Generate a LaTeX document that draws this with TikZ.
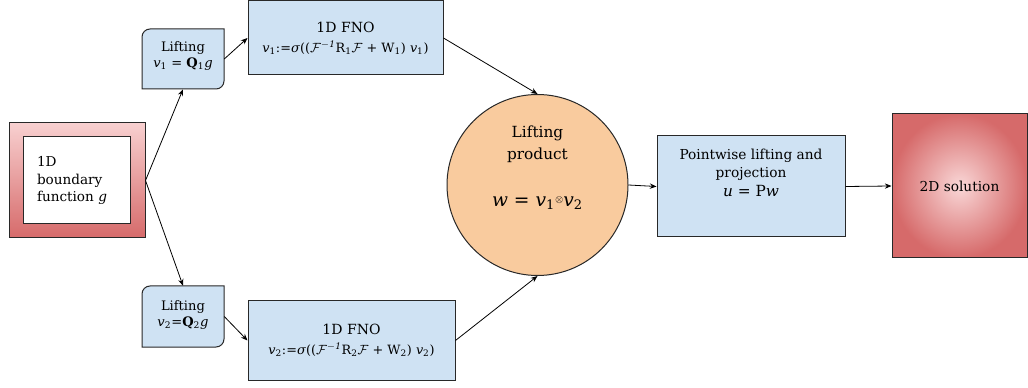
\documentclass[tikz,border=0pt]{standalone}
\usepackage{fontspec}
\setmainfont{DejaVu Serif}
\usetikzlibrary{arrows.meta,shapes.geometric}
\definecolor{bluefill}{RGB}{207,226,243}
\definecolor{orangefill}{RGB}{249,203,158}
\definecolor{pinklight}{RGB}{248,208,208}
\definecolor{reddark}{RGB}{214,106,106}
\definecolor{edge}{RGB}{40,40,40}
\tikzset{
  blubox/.style={draw=edge, fill=bluefill, line width=0.75pt, align=center, inner sep=0pt},
  liftlabel/.style={align=center, inner sep=0pt, font=\fontsize{9.8pt}{11.5pt}\selectfont},
  fnolabel/.style={font=\fontsize{10.5pt}{15pt}\selectfont},
  conn/.style={-{Stealth[length=5pt,width=4pt]}, line width=0.6pt, draw=black},
}
\begin{document}
\begin{tikzpicture}[x=0.75pt,y=-0.75pt]
\useasboundingbox (0,0) rectangle (1028,388);
% boundary box
\node[draw=edge, line width=0.75pt, top color=pinklight, bottom color=reddark,
      minimum width=102pt, minimum height=86.25pt, inner sep=0pt] (bnd) at (77,180.5) {};
\node[draw=edge, fill=white, line width=0.75pt, minimum width=80.25pt, minimum height=65.25pt,
      text width=59.25pt, align=left, inner xsep=10.5pt, inner ysep=0pt,
      font=\fontsize{10.2pt}{13pt}\selectfont] (bndin) at (76.5,180.5) {1D\\boundary\\function \textit{g}};
% lifting shapes
\draw[draw=edge, fill=bluefill, line width=0.75pt] (142,37) arc[start angle=180,end angle=270,radius=8] -- (224,29) -- (224,81) arc[start angle=0,end angle=90,radius=8] -- (142,89) -- cycle;
\node[minimum width=61.5pt, minimum height=45pt, inner sep=0pt] (L1) at (183,59) {};
\node[liftlabel] (L1t) at (183,56) {Lifting\\\textit{v}\textsubscript{1} = \textbf{Q}\textsubscript{1}\textit{g}};
\draw[draw=edge, fill=bluefill, line width=0.75pt] (142,294) arc[start angle=180,end angle=270,radius=8] -- (224,286) -- (224,339) arc[start angle=0,end angle=90,radius=8] -- (142,347) -- cycle;
\node[minimum width=61.5pt, minimum height=45.75pt, inner sep=0pt] (L2) at (183,316.5) {};
\node[liftlabel] (L2t) at (183,315) {Lifting\\\textit{v}\textsubscript{2}=\textbf{Q}\textsubscript{2}\textit{g}};
% FNO boxes
\node[blubox, fnolabel, minimum width=146.25pt, minimum height=55.5pt] (F1) at (345.5,38)
  {1D FNO\\{\fontsize{9.6pt}{15pt}\selectfont\textit{v}\textsubscript{1}:=\textit{σ}(($\mathcal{F}^{\mathit{-1}}$R\textsubscript{1}$\mathcal{F}$ + W\textsubscript{1}) \textit{v}\textsubscript{1})}};
\node[blubox, fnolabel, minimum width=155.25pt, minimum height=59.25pt] (F2) at (351.5,340.5)
  {1D FNO\\{\fontsize{9.6pt}{15pt}\selectfont\textit{v}\textsubscript{2}:=\textit{σ}(($\mathcal{F}^{\mathit{-1}}$R\textsubscript{2}$\mathcal{F}$ + W\textsubscript{2}) \textit{v}\textsubscript{2})}};
% circle
\node[circle, draw=edge, fill=orangefill, line width=0.75pt, minimum size=135.75pt, inner sep=0pt] (C) at (537.5,185) {};
\node[align=center, inner sep=0pt, font=\fontsize{11.5pt}{16.5pt}\selectfont] (Ct) at (537.5,144) {Lifting\\product};
\node[inner sep=0pt, font=\fontsize{14pt}{18pt}\selectfont] (Cf) at (537.5,203) {\textit{w} = \textit{v}\textsubscript{1}\raisebox{3pt}{\scriptsize$\otimes$}\textit{v}\textsubscript{2}};
% pointwise
\node[blubox, minimum width=141pt, minimum height=75.75pt] (P) at (751,186.5) {};
\node[align=center, inner sep=0pt, font=\fontsize{10.3pt}{13.5pt}\selectfont] (Pt) at (751,173) {Pointwise lifting and\\projection\\[1pt]{\fontsize{11.5pt}{13.5pt}\selectfont\textit{u} = P\textit{w}}};
% solution
\node[draw=edge, line width=0.75pt, inner color=pinklight!85!white, outer color=reddark,
      minimum width=101.25pt, minimum height=108pt, inner sep=0pt,
      font=\fontsize{10.3pt}{12pt}\selectfont] (S) at (959.5,186) {2D solution};
% connectors
\coordinate (fork) at (bnd.east);
\draw[conn] (fork) -- (L1.south);
\draw[conn] (fork) -- (L2.north);
\draw[conn] (L1.east) -- (F1.west);
\draw[conn] (L2.east) -- (F2.west);
\draw[conn] (F1.east) -- (C.north);
\draw[conn] (F2.east) -- (C.south);
\draw[conn] (C.east) -- (P.west);
\draw[conn] (P.east) -- (S.west);
\end{tikzpicture}
\end{document}
